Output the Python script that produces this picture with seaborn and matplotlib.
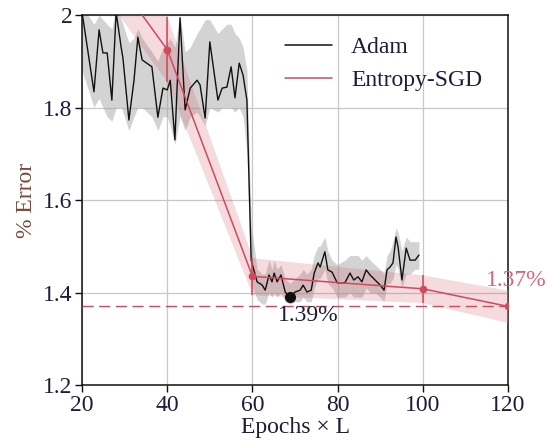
import numpy as np
import pandas as pd
import matplotlib
matplotlib.use("Agg")
import matplotlib.pyplot as plt
import seaborn as sns
from matplotlib.lines import Line2D

# ---------------- data ----------------
adam_x = [20.0, 22.8, 24.0, 24.9, 25.9, 27.0, 28.0, 29.2, 29.6, 31.0, 32.2, 33.1, 34.1, 36.4,
          37.8, 39.0, 40.0, 40.7, 41.8, 43.0, 44.2, 45.4, 47.0, 47.7, 48.9, 50.0, 51.9, 52.9,
          54.0, 55.0, 55.9, 56.9, 57.8, 58.7, 59.7, 61.1, 62.3, 63.0, 63.9, 64.6, 65.1, 65.8,
          66.7, 67.7, 68.8, 70.0, 71.2, 71.9, 72.8, 73.8, 74.5, 75.4, 75.9, 77.0, 77.7, 78.7,
          79.9, 81.7, 82.9, 83.8, 84.8, 85.7, 86.7, 87.6, 88.8, 90.0, 90.9, 91.6, 92.3, 93.0,
          93.7, 94.2, 95.1, 96.1, 97.0, 98.2, 99.1]
adam_y = [2.006, 1.834, 1.968, 1.918, 1.918, 1.816, 2.006, 1.929, 1.907, 1.773, 1.859, 1.952,
          1.903, 1.888, 1.779, 1.842, 1.838, 1.859, 1.730, 1.994, 1.795, 1.842, 1.859, 1.849,
          1.777, 1.942, 1.816, 1.842, 1.844, 1.888, 1.821, 1.896, 1.870, 1.816, 1.470, 1.423,
          1.416, 1.405, 1.438, 1.423, 1.442, 1.423, 1.438, 1.401, 1.390, 1.401, 1.405, 1.416,
          1.401, 1.405, 1.442, 1.464, 1.455, 1.488, 1.449, 1.444, 1.421, 1.421, 1.442, 1.427,
          1.434, 1.423, 1.449, 1.438, 1.427, 1.416, 1.405, 1.449, 1.455, 1.464, 1.520, 1.498,
          1.427, 1.496, 1.470, 1.470, 1.481]
adam_hi = [2.02, 1.98, 2.00, 1.99, 1.98, 1.97, 2.02, 1.99, 1.98, 1.94, 1.95, 1.97, 1.95, 1.92,
           1.90, 1.93, 1.94, 1.95, 1.93, 2.00, 1.92, 1.93, 1.96, 1.97, 1.99, 1.99, 1.96, 1.97,
           1.98, 1.98, 1.96, 1.95, 1.93, 1.88, 1.55, 1.45, 1.44, 1.44, 1.47, 1.45, 1.47, 1.45,
           1.46, 1.43, 1.42, 1.43, 1.44, 1.45, 1.44, 1.45, 1.48, 1.50, 1.50, 1.52, 1.49, 1.47,
           1.46, 1.47, 1.48, 1.48, 1.48, 1.47, 1.48, 1.47, 1.46, 1.45, 1.44, 1.48, 1.49, 1.51,
           1.54, 1.53, 1.49, 1.52, 1.51, 1.51, 1.51]
adam_lo = [1.88, 1.80, 1.82, 1.80, 1.78, 1.77, 1.80, 1.80, 1.79, 1.75, 1.78, 1.80, 1.80, 1.78,
           1.75, 1.78, 1.78, 1.76, 1.72, 1.78, 1.75, 1.78, 1.79, 1.78, 1.76, 1.80, 1.79, 1.80,
           1.80, 1.80, 1.79, 1.80, 1.78, 1.70, 1.42, 1.385, 1.375, 1.375, 1.40, 1.39, 1.40, 1.39,
           1.40, 1.38, 1.375, 1.38, 1.38, 1.39, 1.38, 1.38, 1.41, 1.43, 1.43, 1.45, 1.42, 1.41,
           1.39, 1.39, 1.40, 1.39, 1.39, 1.39, 1.41, 1.40, 1.40, 1.39, 1.38, 1.42, 1.42, 1.43,
           1.46, 1.45, 1.41, 1.44, 1.44, 1.45, 1.45]

esgd_x = [20, 40, 60, 100, 120]
esgd_y = [2.18, 1.925, 1.435, 1.408, 1.37]
esgd_err = [0.07, 0.07, 0.04, 0.03, 0.035]

best_adam_x, best_adam_y = 68.8, 1.39
best_esgd_y = 1.37
x_ticks = [20, 40, 60, 80, 100, 120]
y_ticks = [1.2, 1.4, 1.6, 1.8, 2.0]
y_ticklabels = ["1.2", "1.4", "1.6", "1.8", "2"]

# ---------------- style ----------------
sns.set_theme(style="ticks")
plt.rcParams["font.family"] = ["Liberation Serif", "DejaVu Serif"]

RED = "#d1495b"
TXT = "#1c1c3c"
FS = 17

fig = plt.figure(figsize=(5.47, 4.48), dpi=100)
ax = fig.add_axes([0.15, 0.1406, 0.7787, 0.8259])

adam_df = pd.DataFrame({"x": adam_x, "y": adam_y})
esgd_df = pd.DataFrame({"x": esgd_x, "y": esgd_y})

ax.fill_between(adam_x, adam_lo, adam_hi, color="#a8a8a8", alpha=0.5, lw=0, zorder=2)
sns.lineplot(data=adam_df, x="x", y="y", ax=ax, color="#111111", lw=1.0, zorder=4,
             estimator=None, sort=False)

ex = np.array(esgd_x, float)
ey = np.array(esgd_y)
ee = np.array(esgd_err)
ax.fill_between(ex, ey - ee, ey + ee, color=RED, alpha=0.2, lw=0, zorder=3)
sns.lineplot(data=esgd_df, x="x", y="y", ax=ax, color=RED, lw=1.1, zorder=5,
             estimator=None, sort=False)
ax.errorbar(ex[1:], ey[1:], yerr=ee[1:], fmt="o", color=RED, ms=4.5, elinewidth=1.1,
            capsize=0, zorder=6)

ax.axhline(best_esgd_y, color=RED, lw=1.0, ls=(0, (8, 4)), zorder=5)

ax.plot([best_adam_x], [best_adam_y], "o", color="#111111", ms=7, zorder=7)
ax.text(73.05, 1.351, "1.39%", color=TXT, fontsize=FS, ha="center", va="center", zorder=8)
ax.text(121.9, 1.427, "1.37%", color="#d9637a", fontsize=FS, ha="center", va="center",
        clip_on=False, zorder=8)

ax.set_xlim(20, 120)
ax.set_ylim(1.2, 2.0)
ax.set_xticks(x_ticks)
ax.set_yticks(y_ticks)
ax.set_yticklabels(y_ticklabels)
ax.grid(True, color="#c8c8c8", lw=0.9)
ax.set_axisbelow(True)
for s in ax.spines.values():
    s.set_color("#111111")
    s.set_linewidth(1.1)
ax.tick_params(axis="both", labelsize=FS, colors="#111111", labelcolor=TXT,
               length=5, width=1.0, direction="out", pad=2)
ax.set_xlabel("Epochs \u00d7 L", fontsize=FS, color=TXT, labelpad=1)
ax.set_ylabel("% Error", fontsize=FS, color="#7a4a3a", labelpad=4)

handles = [Line2D([], [], color="#111111", lw=1.1), Line2D([], [], color=RED, lw=1.1)]
leg = ax.legend(handles, ["Adam", "Entropy-SGD"], frameon=False, fontsize=FS,
                loc="upper left", bbox_to_anchor=(0.426, 1.0), handlelength=2.0,
                handletextpad=0.8, labelspacing=0.5)
for t in leg.get_texts():
    t.set_color(TXT)

fig.savefig("out.png", dpi=100)
